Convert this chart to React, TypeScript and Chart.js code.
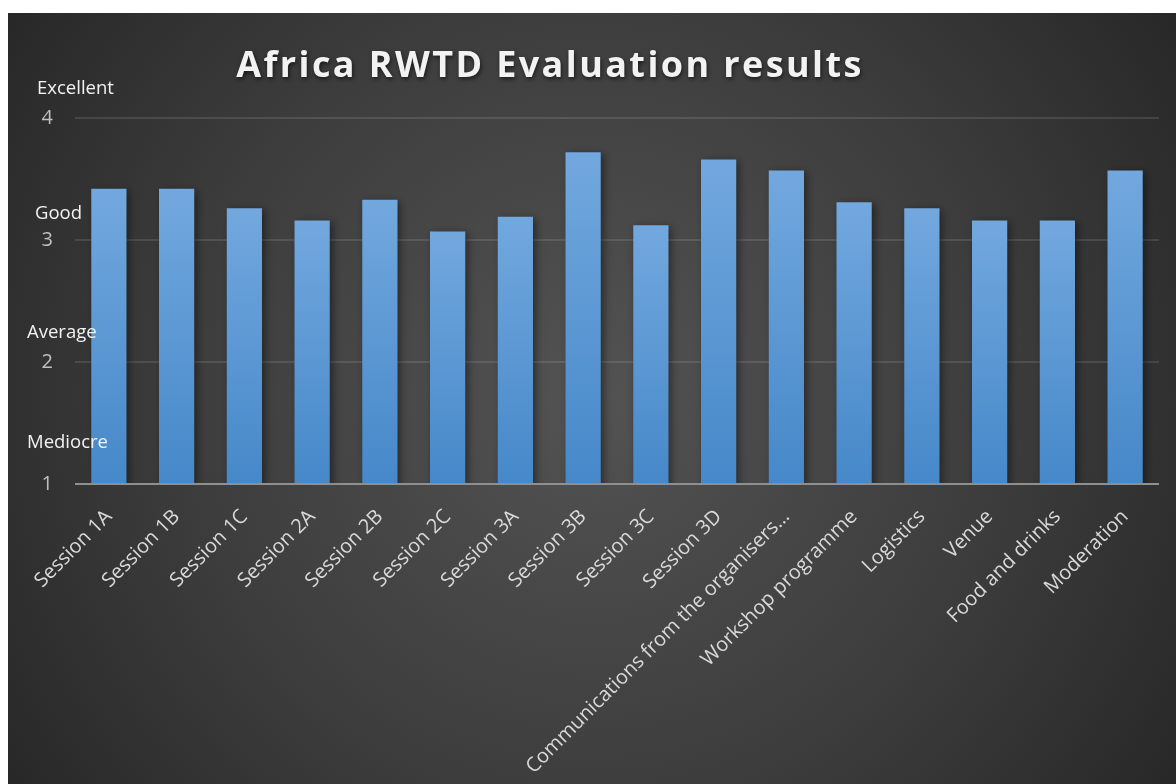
import { useEffect, useRef } from "react";
import { Chart, registerables } from "chart.js";

Chart.register(...registerables);

const categories = [
  "Session 1A",
  "Session 1B",
  "Session 1C",
  "Session 2A",
  "Session 2B",
  "Session 2C",
  "Session 3A",
  "Session 3B",
  "Session 3C",
  "Session 3D",
  "Communications from the organisers…",
  "Workshop programme",
  "Logistics",
  "Venue",
  "Food and drinks",
  "Moderation",
];

const scores = [3.42, 3.42, 3.26, 3.16, 3.33, 3.07, 3.19, 3.72, 3.12, 3.66, 3.57, 3.31, 3.26, 3.16, 3.16, 3.57];

const yTickValues = [1, 2, 3, 4];
const ratingLabels = ["Mediocre", "Average", "Good", "Excellent"];
const titleText = "Africa RWTD Evaluation results";

// placement of the rating captions relative to their tick (style, not data)
const ratingDx = [19, 19, 27, 29];
const ratingDy = [-41, -29, -26, -29];

const bgPlugin = {
  id: "bgPlugin",
  beforeDraw(chart: any) {
    const { ctx, width, height } = chart;
    ctx.save();
    const g = ctx.createRadialGradient(width * 0.5, height * 0.5, 0, width * 0.5, height * 0.5, width * 0.62);
    g.addColorStop(0, "#535353");
    g.addColorStop(0.55, "#3d3d3d");
    g.addColorStop(1, "#262626");
    ctx.fillStyle = g;
    ctx.fillRect(0, 0, width, height);
    ctx.restore();
  },
};

const shadowPlugin = {
  id: "shadowPlugin",
  beforeDatasetsDraw(chart: any) {
    const ctx = chart.ctx;
    ctx.save();
    ctx.shadowColor = "rgba(0,0,0,0.45)";
    ctx.shadowBlur = 8;
    ctx.shadowOffsetX = 3;
    ctx.shadowOffsetY = 2;
  },
  afterDatasetsDraw(chart: any) {
    chart.ctx.restore();
  },
};

const textPlugin = {
  id: "textPlugin",
  afterDraw(chart: any) {
    const { ctx } = chart;
    const y = chart.scales.y;
    ctx.save();
    // axis line at the base
    ctx.strokeStyle = "#8f8f8f";
    ctx.lineWidth = 2;
    ctx.beginPath();
    const by = y.getPixelForValue(1);
    ctx.moveTo(chart.chartArea.left, by);
    ctx.lineTo(chart.chartArea.right, by);
    ctx.stroke();

    ctx.font = "18.5px 'Open Sans'";
    ctx.fillStyle = "#f2f2f2";
    ctx.textAlign = "left";
    ctx.textBaseline = "middle";
    ratingLabels.forEach((lab, i) => {
      const py = y.getPixelForValue(yTickValues[i]) + ratingDy[i];
      ctx.fillText(lab, ratingDx[i], py);
    });

    ctx.font = "bold 36px 'Open Sans'";
    (ctx as any).letterSpacing = "2.4px";
    ctx.textAlign = "center";
    ctx.textBaseline = "alphabetic";
    ctx.shadowColor = "rgba(0,0,0,0.6)";
    ctx.shadowBlur = 4;
    ctx.shadowOffsetX = 1;
    ctx.shadowOffsetY = 2;
    ctx.fillStyle = "#f2f2f2";
    ctx.fillText(titleText, 542, 64);
    ctx.restore();
  },
};

export default function App() {
  const ref = useRef<HTMLCanvasElement | null>(null);

  useEffect(() => {
    if (!ref.current) return;
    const chart = new Chart(ref.current, {
      type: "bar",
      data: {
        labels: categories,
        datasets: [
          {
            label: "Score",
            data: scores,
            backgroundColor: (c: any) => {
              const ch = c.chart;
              const area = ch.chartArea;
              if (!area || c.parsed == null) return "#5b9bd5";
              const ys = ch.scales.y;
              const top = ys.getPixelForValue(c.parsed.y);
              const bottom = ys.getPixelForValue(1);
              const g = ch.ctx.createLinearGradient(0, top, 0, bottom);
              g.addColorStop(0, "#72a8de");
              g.addColorStop(1, "#4688c9");
              return g;
            },
            borderWidth: 0,
            barPercentage: 0.52,
            categoryPercentage: 1,
          },
        ],
      },
      options: {
        animation: false,
        responsive: false,
        maintainAspectRatio: false,
        layout: { padding: { top: 105, right: 17, left: 0, bottom: 0 } },
        plugins: {
          legend: { display: false },
          title: { display: false },
          tooltip: { enabled: false },
        },
        scales: {
          x: {
            grid: { display: false },
            border: { display: false },
            ticks: {
              color: "#d9d9d9",
              font: { family: "'Open Sans'", size: 20 },
              maxRotation: 45,
              minRotation: 45,
              padding: 13,
              autoSkip: false,
            },
            afterFit(scale: any) {
              scale.height = 300;
            },
          },
          y: {
            min: 1,
            max: 4,
            afterBuildTicks(scale: any) {
              scale.ticks = yTickValues.map((v) => ({ value: v }));
            },
            grid: { color: "rgba(255,255,255,0.11)", lineWidth: 2, drawTicks: false },
            border: { display: false },
            ticks: {
              color: "#bfbfbf",
              font: { family: "'Open Sans'", size: 20 },
              padding: 22,
            },
            afterFit(scale: any) {
              scale.width = 67;
            },
          },
        },
      },
      plugins: [bgPlugin, shadowPlugin, textPlugin],
    });
    return () => chart.destroy();
  }, []);

  return (
    <div style={{ position: "fixed", left: 8, top: 13, width: 1168, height: 771 }}>
      <canvas ref={ref} width={1168} height={771} style={{ display: "block", width: 1168, height: 771 }} />
    </div>
  );
}
